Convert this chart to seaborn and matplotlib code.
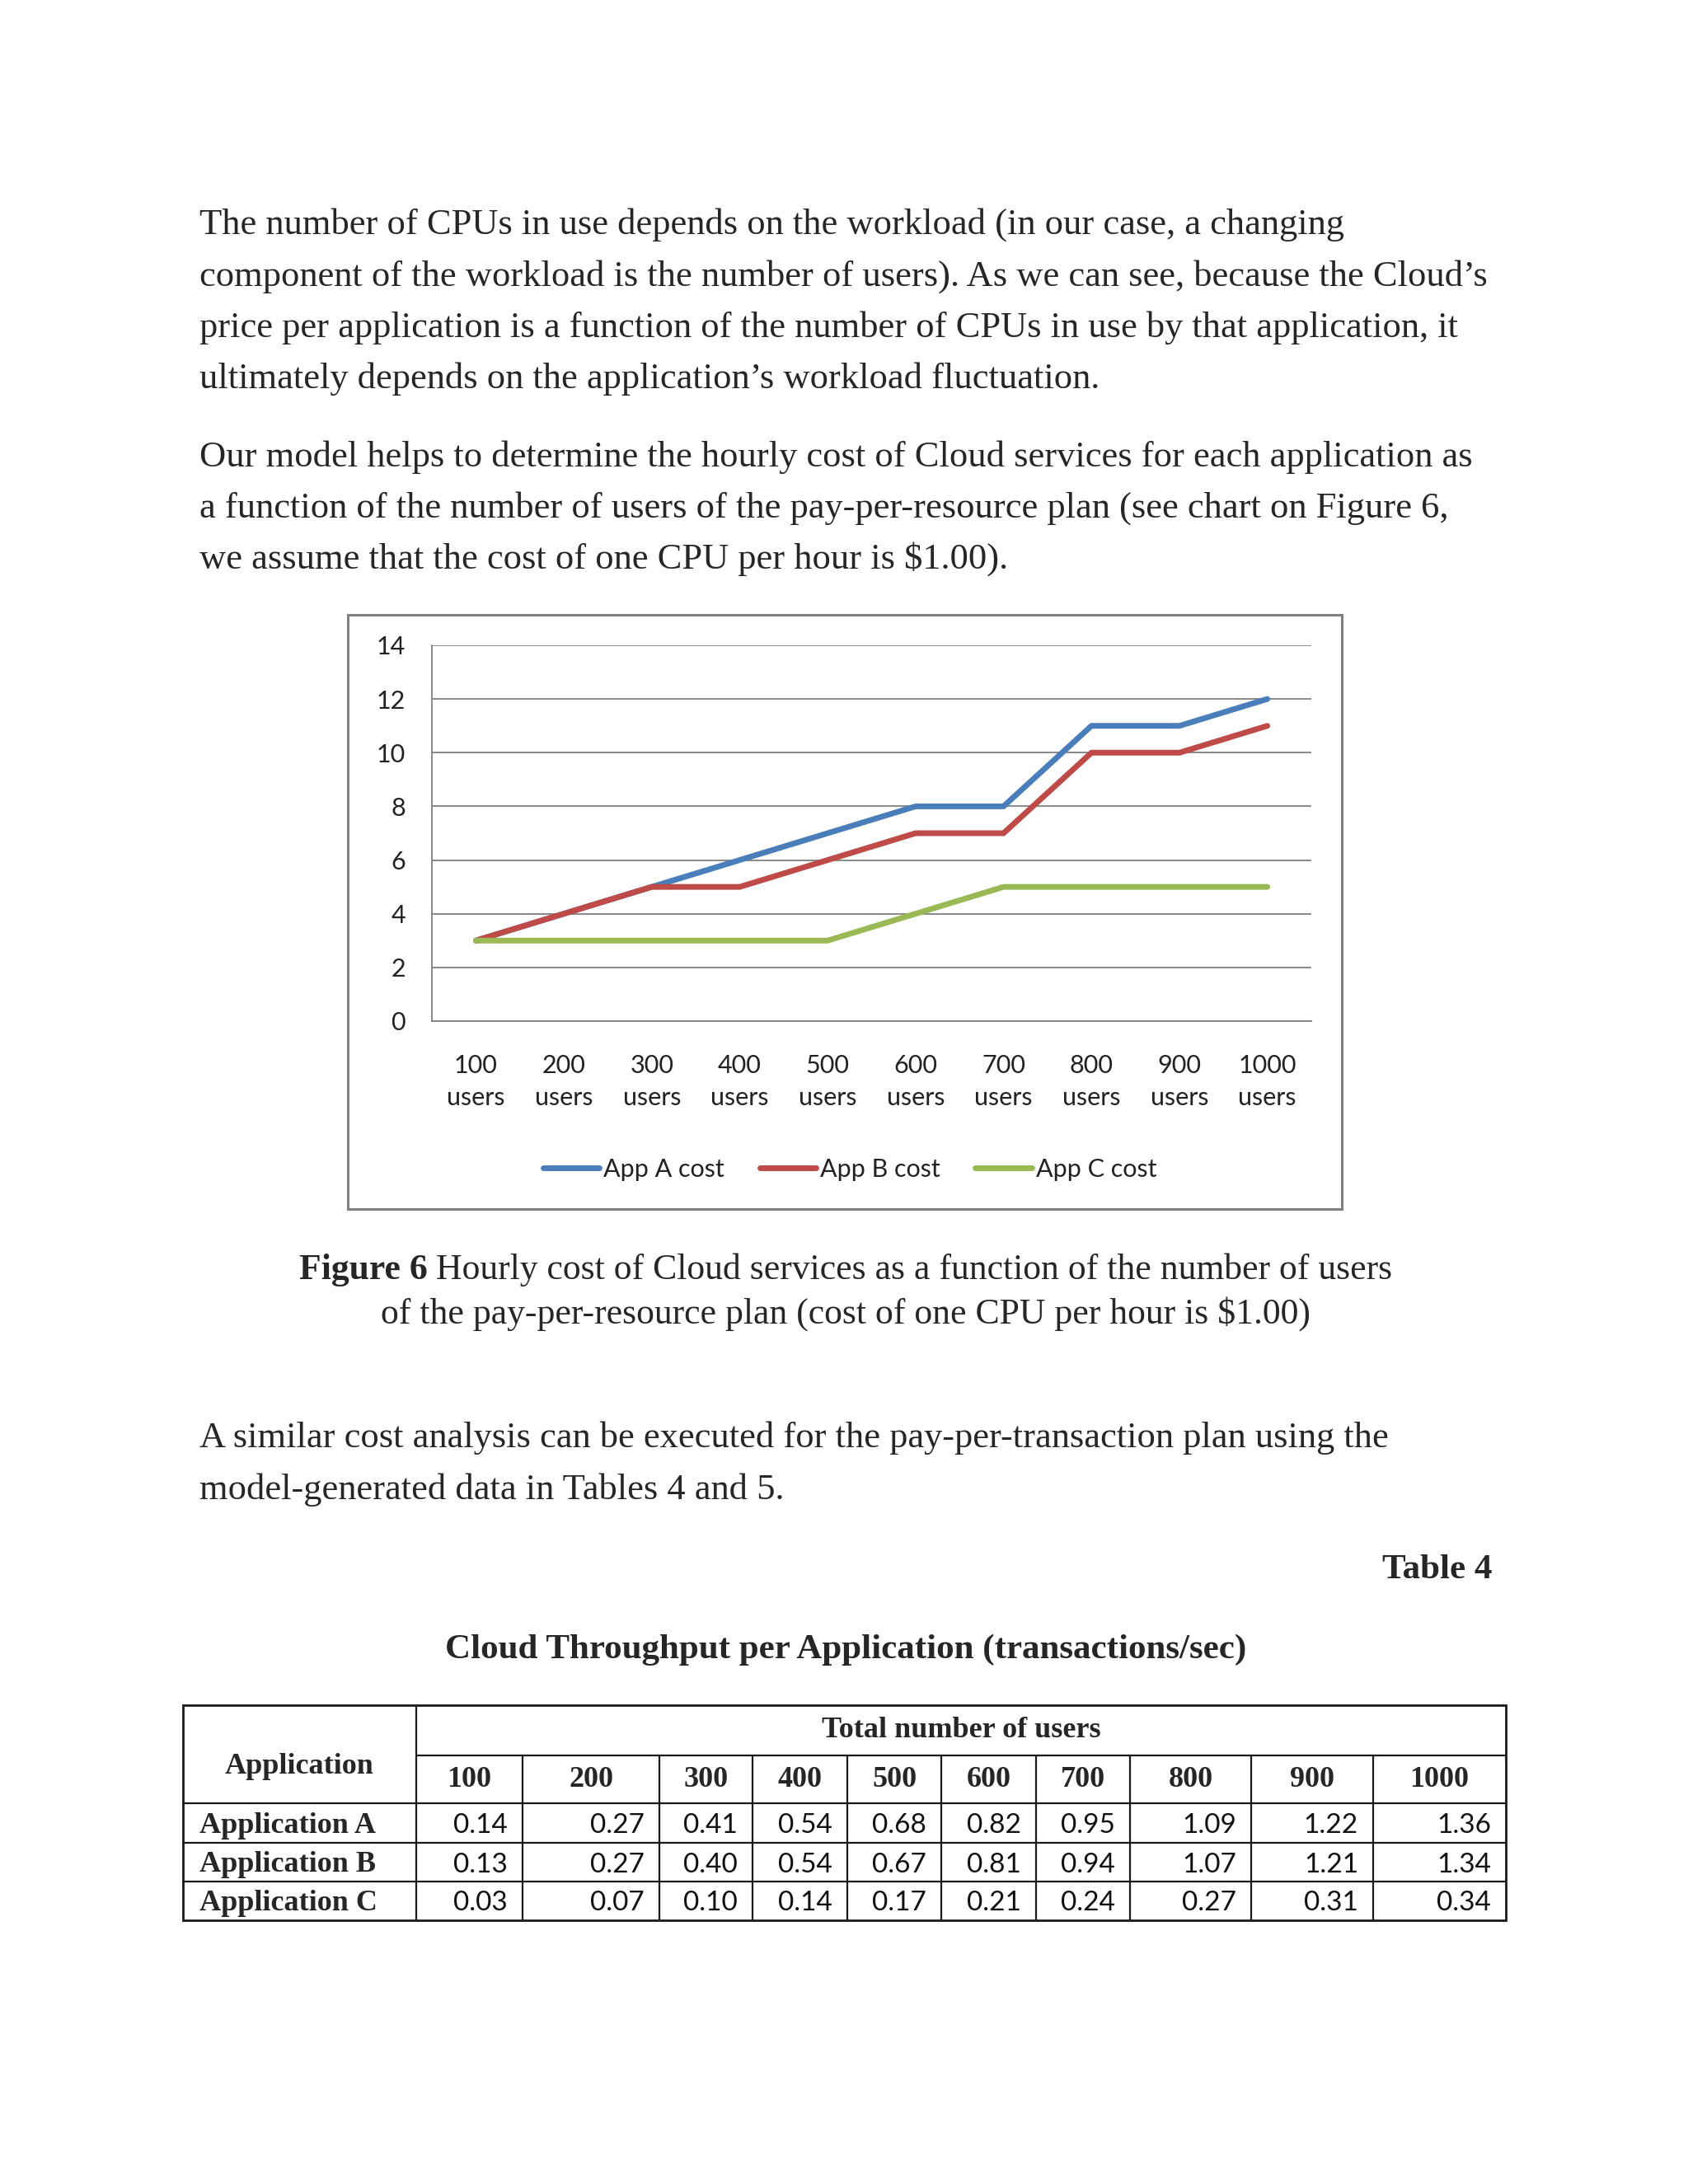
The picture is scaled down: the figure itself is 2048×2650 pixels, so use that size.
import numpy as np
import pandas as pd
import seaborn as sns
import matplotlib.pyplot as plt
from matplotlib.patches import Rectangle
from matplotlib.ticker import FixedLocator, NullFormatter

# chart data (Figure 6)
users = ["100", "200", "300", "400", "500", "600", "700", "800", "900", "1000"]
app_a_cost = [3, 4, 5, 6, 7, 8, 8, 11, 11, 12]
app_b_cost = [3, 4, 5, 5, 6, 7, 7, 10, 10, 11]
app_c_cost = [3, 3, 3, 3, 3, 4, 5, 5, 5, 5]
series_names = ["App A cost", "App B cost", "App C cost"]
series_colors = ["#4A7EBB", "#BE4B48", "#98B954"]

# table data (Table 4)
table_apps = ["Application A", "Application B", "Application C"]
thr_a = [0.14, 0.27, 0.41, 0.54, 0.68, 0.82, 0.95, 1.09, 1.22, 1.36]
thr_b = [0.13, 0.27, 0.40, 0.54, 0.67, 0.81, 0.94, 1.07, 1.21, 1.34]
thr_c = [0.03, 0.07, 0.10, 0.14, 0.17, 0.21, 0.24, 0.27, 0.31, 0.34]

para1 = ["The number of CPUs in use depends on the workload (in our case, a changing",
         "component of the workload is the number of users). As we can see, because the Cloud\u2019s",
         "price per application is a function of the number of CPUs in use by that application, it",
         "ultimately depends on the application\u2019s workload fluctuation."]
para2 = ["Our model helps to determine the hourly cost of Cloud services for each application as",
         "a function of the number of users of the pay-per-resource plan (see chart on Figure 6,",
         "we assume that the cost of one CPU per hour is $1.00)."]
para3 = ["A similar cost analysis can be executed for the pay-per-transaction plan using the",
         "model-generated data in Tables 4 and 5."]

sns.set_style("white")
SERIF = "Liberation Serif"
SANS = "Lato"
plt.rcParams["font.family"] = [SANS, "DejaVu Sans"]

W, H = 2048, 2650
fig = plt.figure(figsize=(W / 100, H / 100), dpi=100)
fig.patch.set_facecolor("white")

# page overlay in pixel coordinates
page = fig.add_axes([0, 0, 1, 1], zorder=0)
page.set_xlim(0, W)
page.set_ylim(H, 0)
page.axis("off")

body_size = 32
cap_size = 31.5
GRAY = "#808080"

def txt(x, y, s, **kw):
    kw.setdefault("family", SERIF)
    kw.setdefault("fontsize", body_size)
    kw.setdefault("va", "baseline")
    page.text(x, y, s, parse_math=False, **kw)

for i, line in enumerate(para1):
    txt(242, 284 + i * 62.5, line)
for i, line in enumerate(para2):
    txt(242, 566 + i * 62, line)

# chart frame
page.add_patch(Rectangle((422, 746), 1206, 721, fill=False, edgecolor=GRAY, linewidth=2.2))

# line chart
ax = fig.add_axes([524 / W, 1 - 1239 / H, (1591 - 524) / W, (1239 - 783) / H], zorder=1)
ax.patch.set_alpha(0)
labels = [u + "\nusers" for u in users]
df = pd.DataFrame({
    "users": labels * 3,
    "cost": app_a_cost + app_b_cost + app_c_cost,
    "app": np.repeat(series_names, len(users)),
})
sns.lineplot(data=df, x="users", y="cost", hue="app", palette=series_colors,
             linewidth=5, sort=False, ax=ax)

ax.set_xlim(-0.5, len(users) - 0.5)
ax.set_ylim(0, 14)
ax.set_yticks(range(0, 15, 2))
ax.set_xlabel("")
ax.set_ylabel("")
ax.yaxis.grid(True, color=GRAY, linewidth=1.3)
ax.xaxis.grid(False)
for s in ["top", "right"]:
    ax.spines[s].set_visible(False)
for s in ["left", "bottom"]:
    ax.spines[s].set_color(GRAY)
    ax.spines[s].set_linewidth(1.3)
ax.xaxis.set_minor_locator(FixedLocator(np.arange(-0.5, len(users), 1.0)))
ax.xaxis.set_minor_formatter(NullFormatter())
ax.tick_params(axis="x", which="major", length=0, pad=29, labelsize=22, labelcolor="#222222")
ax.tick_params(axis="x", which="minor", length=8, width=1.3, color=GRAY, direction="out")
ax.tick_params(axis="y", which="major", length=8, width=1.3, color=GRAY, direction="out",
               pad=15, labelsize=22, labelcolor="#222222")
for t in ax.get_xticklabels():
    t.set_linespacing(1.45)
ax.set_axisbelow(True)

handles, leg_labels = ax.get_legend_handles_labels()
ax.legend_.remove()
for h in handles:
    h.set_linewidth(5)
fig.legend(handles, leg_labels, loc="center", bbox_to_anchor=(1031 / W, 1 - 1419 / H),
           ncol=3, frameon=False, fontsize=22, handlelength=2.25, handletextpad=0.15,
           columnspacing=1.4, labelcolor="#222222")

# figure caption with bold prefix
renderer = fig.canvas.get_renderer()
bold_part = page.text(0, 0, "Figure 6", family=SERIF, fontsize=cap_size, weight="bold",
                      va="baseline", parse_math=False)
rest_part = page.text(0, 0, " Hourly cost of Cloud services as a function of the number of users",
                      family=SERIF, fontsize=cap_size, va="baseline", parse_math=False)
wb = bold_part.get_window_extent(renderer).width
wr = rest_part.get_window_extent(renderer).width
x0 = 1026 - (wb + wr) / 2
bold_part.set_position((x0, 1552))
rest_part.set_position((x0 + wb, 1552))
txt(1026, 1606, "of the pay-per-resource plan (cost of one CPU per hour is $1.00)", ha="center",
    fontsize=cap_size)

for i, line in enumerate(para3):
    txt(242, 1756 + i * 63, line)

txt(1810, 1915, "Table 4", ha="right", weight="bold", fontsize=31)
txt(1026, 2012, "Cloud Throughput per Application (transactions/sec)", ha="center",
    weight="bold", fontsize=31)

# table 4
col_edges = [222, 505, 634, 800, 913, 1028, 1142, 1257, 1371, 1518, 1666, 1827]
row_edges = [2069, 2130, 2188, 2236, 2283, 2330]
LC = "#1a1a1a"
lw = 1.6
page.add_patch(Rectangle((col_edges[0], row_edges[0]), col_edges[-1] - col_edges[0],
                         row_edges[-1] - row_edges[0], fill=False, edgecolor=LC, linewidth=2.0))
page.plot([col_edges[1], col_edges[-1]], [row_edges[1]] * 2, color=LC, lw=lw)
for y in row_edges[2:-1]:
    page.plot([col_edges[0], col_edges[-1]], [y, y], color=LC, lw=lw)
page.plot([col_edges[1]] * 2, [row_edges[0], row_edges[-1]], color=LC, lw=lw)
for x in col_edges[2:-1]:
    page.plot([x, x], [row_edges[1], row_edges[-1]], color=LC, lw=lw)

tsize = 26
page.text((col_edges[0] + col_edges[1]) / 2, 2143, "Application", family=SERIF, fontsize=tsize,
          weight="bold", ha="center", va="center")
page.text((col_edges[1] + col_edges[-1]) / 2, 2099, "Total number of users", family=SERIF,
          fontsize=tsize, weight="bold", ha="center", va="center")
for j, u in enumerate(users):
    page.text((col_edges[j + 1] + col_edges[j + 2]) / 2, 2159, u, family=SERIF, fontsize=tsize,
              weight="bold", ha="center", va="center")
rows = [thr_a, thr_b, thr_c]
for i, (name, vals) in enumerate(zip(table_apps, rows)):
    yc = (row_edges[i + 2] + row_edges[i + 3]) / 2 + 3
    page.text(col_edges[0] + 20, yc, name, family=SERIF, fontsize=tsize, weight="bold",
              ha="left", va="center")
    for j, v in enumerate(vals):
        page.text(col_edges[j + 2] - 18, yc, f"{v:.2f}", family=SANS, fontsize=24,
                  ha="right", va="center", color="#111111")

fig.savefig("out.png", dpi=100, facecolor="white")
